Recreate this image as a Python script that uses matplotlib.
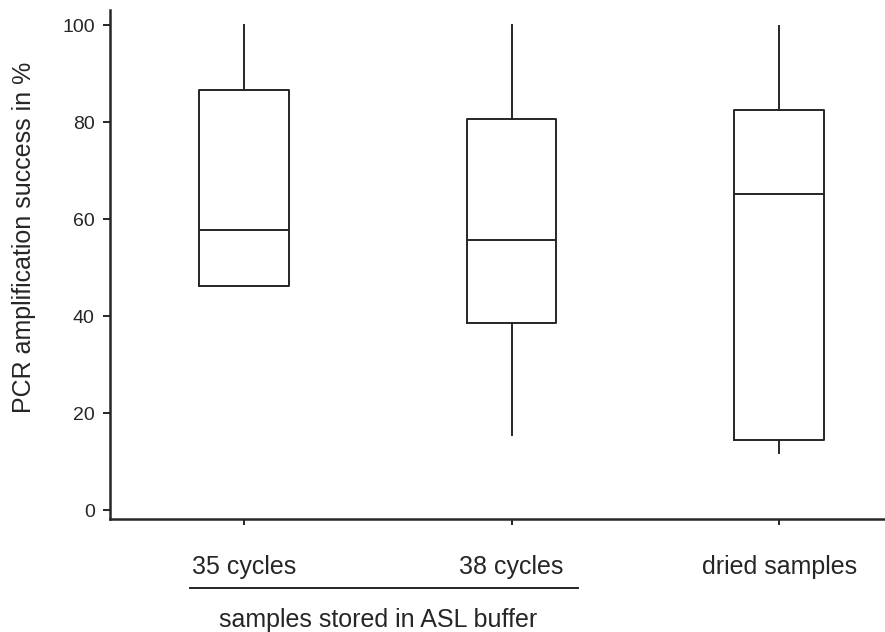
import matplotlib
matplotlib.use("Agg")
import matplotlib.pyplot as plt
import matplotlib.transforms as mtransforms

# values (PCR amplification success in %)
categories = ["35 cycles", "38 cycles", "dried samples"]
whislo = [46.2, 15.5, 11.8]
q1 = [46.2, 38.6, 14.5]
med = [57.7, 55.7, 65.2]
q3 = [86.6, 80.7, 82.6]
whishi = [100.0, 100.0, 99.8]
yticks = [0, 20, 40, 60, 80, 100]
group_label = "samples stored in ASL buffer"

plt.rcParams['font.family'] = ['Liberation Sans', 'DejaVu Sans']
INK = '#262626'

fig = plt.figure(figsize=(8.85, 6.32), dpi=100)
W, H = 885.0, 632.0
ax = fig.add_axes([110 / W, 1 - 518.5 / H, 1 - 110 / W, (518.5 - 10) / H])

stats = []
for lab, lo, a, m, b, hi in zip(categories, whislo, q1, med, q3, whishi):
    stats.append(dict(label=lab, whislo=lo, q1=a, med=m, q3=b, whishi=hi, fliers=[]))

lw = 1.4
ax.bxp(stats, positions=[1, 2, 3], widths=0.335, showcaps=False, showfliers=False,
       boxprops=dict(color=INK, linewidth=lw),
       whiskerprops=dict(color=INK, linewidth=lw),
       medianprops=dict(color=INK, linewidth=lw))

ax.set_xlim(0.5, 3.395)
ax.set_ylim(-1.65, 103.1)
ax.set_yticks(yticks)
ax.set_yticklabels([str(t) for t in yticks])
ax.set_xticks([1, 2, 3])
ax.set_xticklabels(categories)

for s in ['top', 'right']:
    ax.spines[s].set_visible(False)
for s in ['left', 'bottom']:
    ax.spines[s].set_linewidth(1.8)
    ax.spines[s].set_color(INK)

ax.tick_params(axis='y', direction='out', length=5, width=1.4, pad=6,
               labelsize=14, colors=INK)
ax.tick_params(axis='x', direction='out', length=4, width=1.4, pad=22,
               labelsize=18, colors=INK)

fig.text(24 / W, 1 - 237 / H, "PCR amplification success in %", rotation=90,
         ha='center', va='center', fontsize=18, color=INK)

# bracket under the two ASL groups
trans = mtransforms.blended_transform_factory(ax.transData, fig.transFigure)
ax.plot([0.80, 2.247], [1 - 588 / H, 1 - 588 / H], color=INK, linewidth=1.4,
        transform=trans, clip_on=False)
ax.text(1.50, 1 - 627 / H, group_label, transform=trans, ha='center',
        va='baseline', fontsize=18, color=INK)

fig.savefig("out.png", dpi=100)
